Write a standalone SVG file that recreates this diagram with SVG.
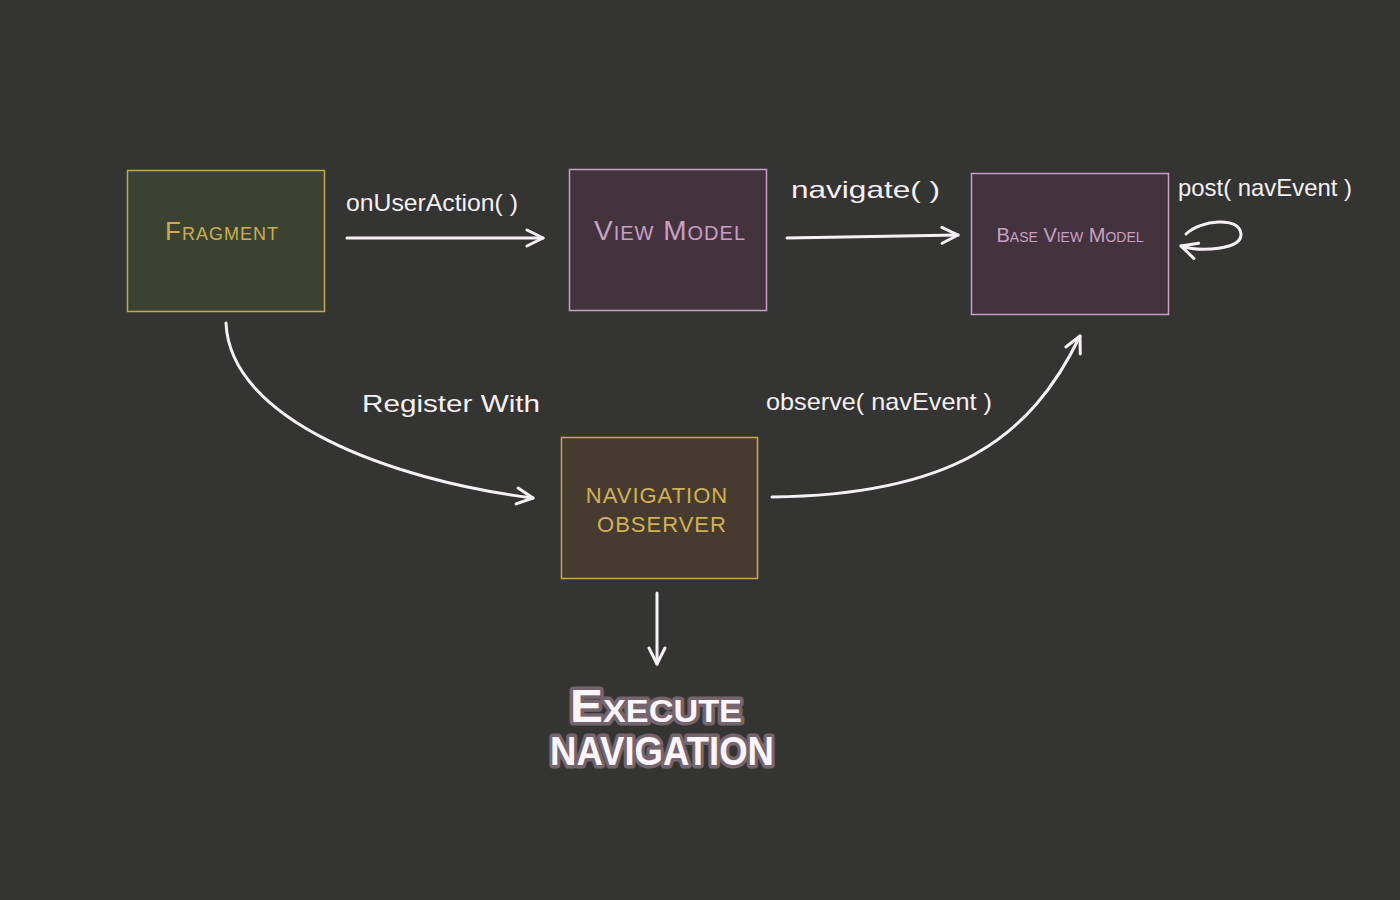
<svg xmlns="http://www.w3.org/2000/svg" width="1400" height="900" viewBox="0 0 1400 900">
<style>
.lbl{font-family:"Liberation Sans","DejaVu Sans",sans-serif;font-size:24px;fill:#f6f1f6;}
.conn{fill:none;stroke:#f6f1f6;stroke-width:3;stroke-linecap:round;stroke-linejoin:round;}
.nt{font-family:"Liberation Sans","DejaVu Sans",sans-serif;font-variant:small-caps;text-anchor:middle;}
.big{font-family:"Liberation Sans","DejaVu Sans",sans-serif;font-weight:bold;font-variant:small-caps;fill:#fbf6fb;stroke:#75646d;stroke-width:7;paint-order:stroke;stroke-linejoin:round;}
</style>
<defs>
<marker id="ah" viewBox="0 0 20 20" refX="18" refY="10" markerWidth="20" markerHeight="20" markerUnits="userSpaceOnUse" orient="auto">
<path d="M2,2 L18,10 L2,18" fill="none" stroke="#f6f1f6" stroke-width="3" stroke-linecap="round" stroke-linejoin="round"/>
</marker>
</defs>
<rect width="1400" height="900" fill="#343432"/>

<g id="fragment">
<rect x="127.5" y="170.5" width="197" height="141" fill="#3b4330" stroke="#bda95a" stroke-width="1.5"/>
<text class="nt" x="222" y="240" font-size="26" fill="#c9ae55" letter-spacing="1">Fragment</text>
</g>
<g id="viewmodel">
<rect x="569.5" y="169.5" width="197" height="141" fill="#45323f" stroke="#c79fc3" stroke-width="1.5"/>
<text class="nt" x="670" y="240" font-size="28" fill="#c7a0c2" letter-spacing="1">View Model</text>
</g>
<g id="baseviewmodel">
<rect x="971.5" y="173.5" width="197" height="141" fill="#45323f" stroke="#c79fc3" stroke-width="1.5"/>
<text class="nt" x="1070" y="242" font-size="20" fill="#c7a0c2">Base View Model</text>
</g>
<g id="navigationobserver">
<rect x="561.5" y="437.5" width="196" height="141" fill="#473a2f" stroke="#c9a94e" stroke-width="1.5"/>
<text class="nt" x="657" y="503" font-size="22" fill="#cfb158" letter-spacing="1">NAVIGATION</text>
<text class="nt" x="662" y="532" font-size="22" fill="#cfb158" letter-spacing="1">OBSERVER</text>
</g>
<g id="executenavigation">
<text class="big" x="570" y="722" font-size="46" textLength="172" lengthAdjust="spacingAndGlyphs">Execute</text>
<text class="big" x="550" y="765" font-size="40" textLength="224" lengthAdjust="spacingAndGlyphs">NAVIGATION</text>
</g>

<g id="connectors">
<path class="conn" d="M347,238 L543,238" marker-end="url(#ah)"/>
<path class="conn" d="M787,238 L958,235" marker-end="url(#ah)"/>
<path class="conn" d="M1186,234 C1200,220 1240,216 1241,234 C1242,250 1200,252 1181,246" marker-end="url(#ah)"/>
<path class="conn" d="M226,323 C230,420 390,480 533,498" marker-end="url(#ah)"/>
<path class="conn" d="M772,497 C950,495 1030,440 1080,336" marker-end="url(#ah)"/>
<path class="conn" d="M657,593 L657,664" marker-end="url(#ah)"/>
<text class="lbl" x="346" y="211" textLength="172" lengthAdjust="spacingAndGlyphs">onUserAction( )</text>
<text class="lbl" x="791" y="198" font-size="27" textLength="149" lengthAdjust="spacingAndGlyphs">navigate( )</text>
<text class="lbl" x="1178" y="196" font-size="22" textLength="174" lengthAdjust="spacingAndGlyphs">post( navEvent )</text>
<text class="lbl" x="362" y="412" font-size="26" textLength="178" lengthAdjust="spacingAndGlyphs">Register With</text>
<text class="lbl" x="766" y="410" textLength="226" lengthAdjust="spacingAndGlyphs">observe( navEvent )</text>
</g>
</svg>
